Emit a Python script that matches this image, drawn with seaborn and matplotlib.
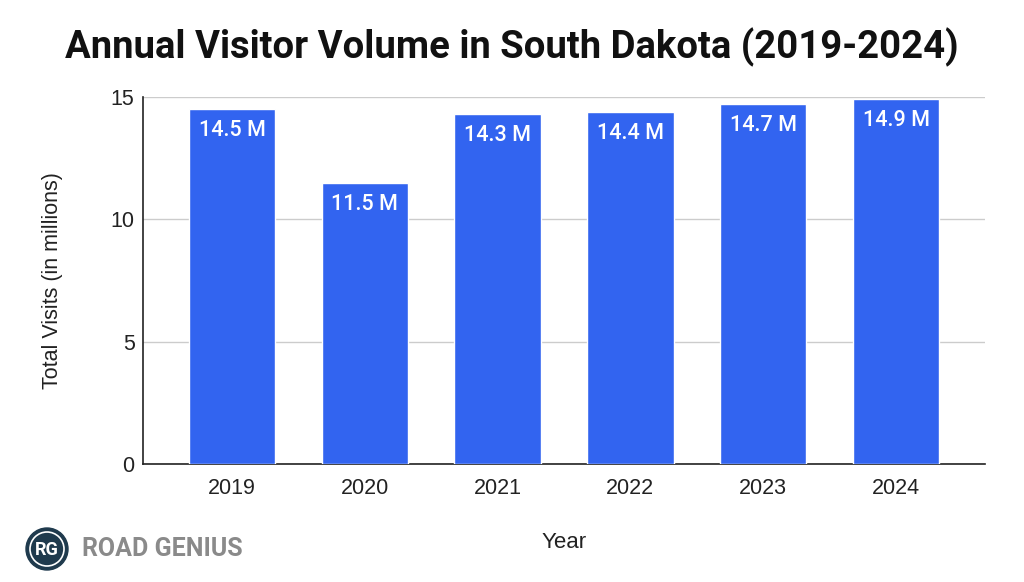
import matplotlib
matplotlib.use('Agg')
import matplotlib.pyplot as plt
import seaborn as sns
import pandas as pd
from matplotlib.patches import Circle

# Data
years = ['2019', '2020', '2021', '2022', '2023', '2024']
visits = [14.5, 11.5, 14.3, 14.4, 14.7, 14.9]
labels = ['14.5 M', '11.5 M', '14.3 M', '14.4 M', '14.7 M', '14.9 M']
y_ticks = [0, 5, 10, 15]

df = pd.DataFrame({'Year': years, 'Visits': visits})

sns.set_theme(style='white')
plt.rcParams['font.family'] = ['Liberation Sans', 'DejaVu Sans']

fig = plt.figure(figsize=(10.24, 5.82), dpi=100)
ax = fig.add_axes([0.1396, 0.2027, 0.8224, 0.6306])

bar_color = '#3264F0'
sns.barplot(data=df, x='Year', y='Visits', color=bar_color, width=0.65,
            saturation=1, ax=ax, zorder=3)

for i, (v, lab) in enumerate(zip(visits, labels)):
    ax.annotate(lab, xy=(i, v), xytext=(0, -15.5), textcoords='offset points',
                ha='center', va='center', color='white', fontsize=15.5,
                fontweight='medium', family=['Roboto', 'DejaVu Sans'])

ax.set_xlim(-0.67, 5.67)
ax.set_ylim(0, 15)
ax.set_yticks(y_ticks)
ax.yaxis.grid(True, color='#cccccc', linewidth=1, zorder=0)
ax.set_axisbelow(True)
for s in ['top', 'right']:
    ax.spines[s].set_visible(False)
ax.spines['left'].set_color('#222222')
ax.spines['bottom'].set_color('#222222')
ax.spines['left'].set_linewidth(1.2)
ax.spines['bottom'].set_linewidth(1.2)
ax.tick_params(axis='both', length=0, labelsize=15.5, colors='#222222')
ax.tick_params(axis='x', pad=10)
ax.tick_params(axis='y', pad=6)

ax.set_xlabel('Year', fontsize=16, color='#222222', labelpad=24)
ax.set_ylabel('Total Visits (in millions)', fontsize=15.5, color='#222222', labelpad=34)

fig.text(0.5, 0.918, 'Annual Visitor Volume in South Dakota (2019-2024)',
         ha='center', va='center', fontsize=27.5, fontweight='bold',
         family=['Roboto', 'DejaVu Sans'], color='#111111')

# Logo
logo_ax = fig.add_axes([0, 0, 1, 1], facecolor='none')
logo_ax.set_xlim(0, 1024)
logo_ax.set_ylim(582, 0)
logo_ax.axis('off')
logo_ax.add_patch(Circle((47, 549), 21, color='#1f3a4d', zorder=2))
logo_ax.add_patch(Circle((47, 549), 17, fill=False, edgecolor='white', linewidth=1.2, zorder=3))
logo_ax.text(47, 550, 'RG', ha='center', va='center', color='white', fontsize=13,
             fontweight='bold', family=['Roboto', 'DejaVu Sans'], zorder=4)
logo_ax.text(82, 549, 'ROAD GENIUS', ha='left', va='center', color='#8a8a8a',
             fontsize=18, fontweight='bold', family=['Roboto', 'DejaVu Sans'])

fig.savefig('out.png', dpi=100)
